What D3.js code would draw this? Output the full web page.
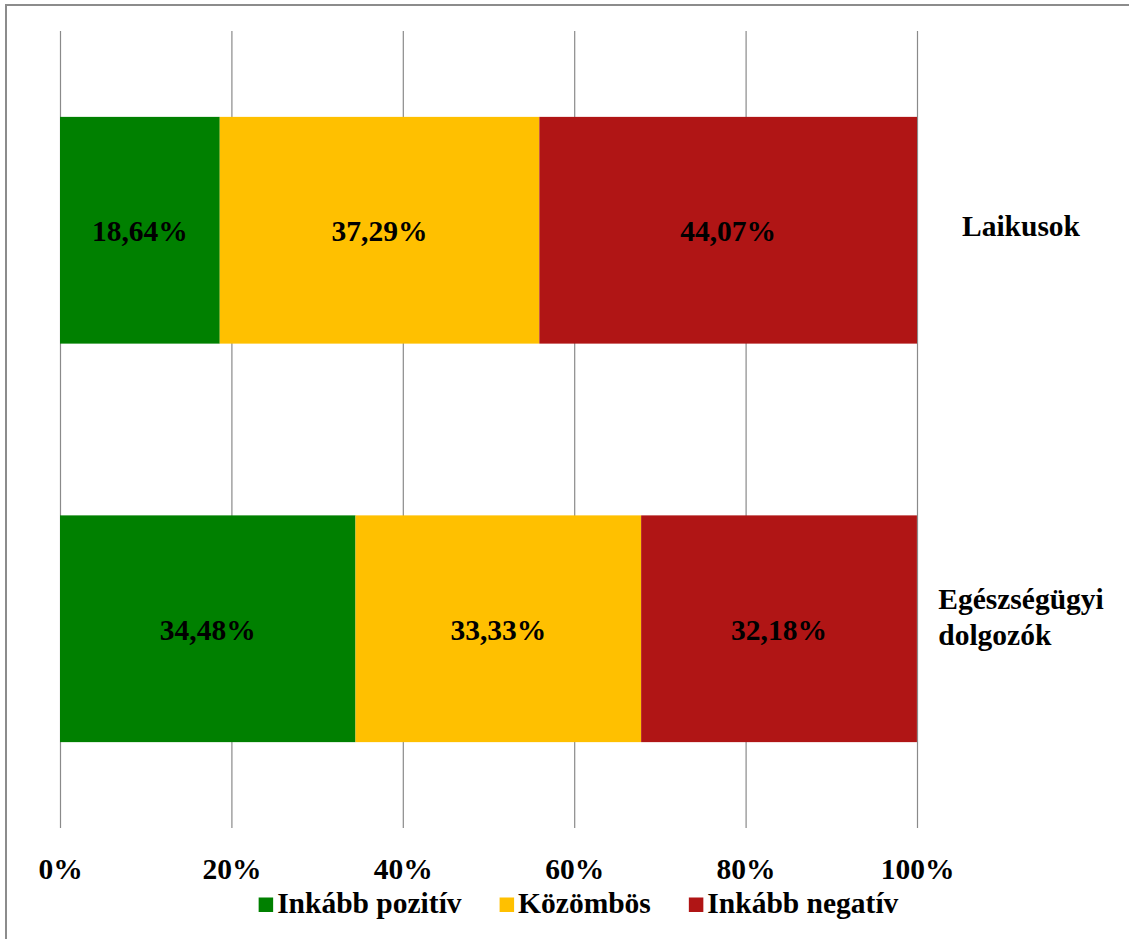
<!DOCTYPE html>
<html>
<head>
<meta charset="utf-8">
<script src="https://cdn.jsdelivr.net/npm/d3@7/dist/d3.min.js"></script>
<style>
  html, body { margin: 0; padding: 0; background: #fff; }
  svg text { font-family: "Liberation Serif", "Times New Roman", serif; font-weight: bold; font-size: 29.5px; }
</style>
</head>
<body>
<svg id="chart" width="1129" height="939"></svg>
<script>
// ---- data ----
const categories = ["Laikusok", "Egészségügyi dolgozók"];
const categoryLines = [["Laikusok"], ["Egészségügyi", "dolgozók"]];
const seriesNames = ["Inkább pozitív", "Közömbös", "Inkább negatív"];
const seriesColors = ["#008000", "#FFC000", "#B01515"];
const positive = [18.64, 34.48];
const neutral = [37.29, 33.33];
const negative = [44.07, 32.18];
const tickValues = [0, 20, 40, 60, 80, 100];
const labelFmt = v => v.toFixed(2).replace(".", ",") + "%";

const seriesValues = [positive, neutral, negative];
const FONT = '"Liberation Serif", "Times New Roman", serif';
const FS = "29.5px";

const svg = d3.select("#chart");
const W = 1129, H = 939;
svg.append("rect").attr("x", 0).attr("y", 0).attr("width", W).attr("height", H).attr("fill", "#fff");
// outer frame (only top/left visible)
svg.append("rect").attr("x", 6).attr("y", 5).attr("width", 1140).attr("height", 960)
  .attr("fill", "none").attr("stroke", "#8c8c8c").attr("stroke-width", 2);

const plot = { left: 60, right: 917, top: 31, bottom: 828 };
const x = d3.scaleLinear().domain([0, 100]).range([plot.left, plot.right]);
const y = d3.scaleBand().domain(categories).range([plot.top, plot.bottom])
  .paddingInner(0.431).paddingOuter(0.2155);

// gridlines + tick labels via axis
const axis = d3.axisBottom(x).tickValues(tickValues).tickFormat(d => d + "%")
  .tickSizeInner(-(plot.bottom - plot.top)).tickSizeOuter(0).tickPadding(0);
const gAxis = svg.append("g").attr("transform", `translate(0,${plot.bottom})`).call(axis);
gAxis.attr("font-family", null).attr("font-size", null);
gAxis.select(".domain").remove();
gAxis.selectAll(".tick line").attr("stroke", "#8a8a8a").attr("stroke-width", 1.2);
gAxis.selectAll(".tick text")
  .attr("y", 51).attr("dy", 0)
  .attr("fill", "#000")
  .style("font-family", FONT)
  .style("font-weight", "bold").style("font-size", FS);

// stacked bars
const stackData = categories.map((c, i) => {
  const o = { cat: c };
  seriesNames.forEach((s, j) => o[s] = seriesValues[j][i]);
  return o;
});
const stacked = d3.stack().keys(seriesNames)(stackData);

const gBars = svg.append("g");
stacked.forEach((layer, j) => {
  const g = gBars.append("g").attr("fill", seriesColors[j]);
  g.selectAll("rect").data(layer).join("rect")
    .attr("x", d => x(d[0]))
    .attr("y", d => y(d.data.cat))
    .attr("width", d => x(d[1]) - x(d[0]))
    .attr("height", y.bandwidth());
  g.selectAll("text").data(layer).join("text")
    .attr("x", d => (x(d[0]) + x(d[1])) / 2)
    .attr("y", d => y(d.data.cat) + y.bandwidth() / 2 + 11)
    .attr("text-anchor", "middle")
    .attr("fill", "#000")
    .style("font-family", FONT).style("font-size", FS)
    .text(d => labelFmt(d[1] - d[0]));
});

// category labels on the right
const catCenterX = 1021;
categories.forEach((c, i) => {
  const lines = categoryLines[i];
  const cy = y(c) + y.bandwidth() / 2;
  const lh = 36;
  const t = svg.append("text").attr("fill", "#000").style("font-family", FONT).style("font-size", FS);
  const firstBase = cy + 6 - (lines.length - 1) * lh / 2 - (lines.length > 1 ? 8 : 0);
  lines.forEach((ln, k) => {
    t.append("tspan").attr("y", firstBase + k * lh).text(ln);
  });
  let maxW = 0;
  t.selectAll("tspan").each(function () { maxW = Math.max(maxW, this.getComputedTextLength()); });
  t.selectAll("tspan").attr("x", catCenterX - maxW / 2);
});

// legend
const legend = svg.append("g");
const sq = 14.5, gapSq = 4, gapItem = 38;
const items = [];
seriesNames.forEach((s, j) => {
  const g = legend.append("g");
  g.append("rect").attr("x", 0).attr("y", -15.5).attr("width", sq).attr("height", sq).attr("fill", seriesColors[j]);
  const t = g.append("text").attr("x", sq + gapSq).attr("y", 0).attr("fill", "#000")
    .style("font-family", FONT).style("font-size", FS).text(s);
  const w = sq + gapSq + t.node().getComputedTextLength();
  items.push({ g, w });
});
const total = d3.sum(items, d => d.w) + gapItem * (items.length - 1);
let lx = 578.5 - total / 2;
items.forEach(it => { it.g.attr("transform", `translate(${lx},913)`); lx += it.w + gapItem; });
</script>
</body>
</html>
